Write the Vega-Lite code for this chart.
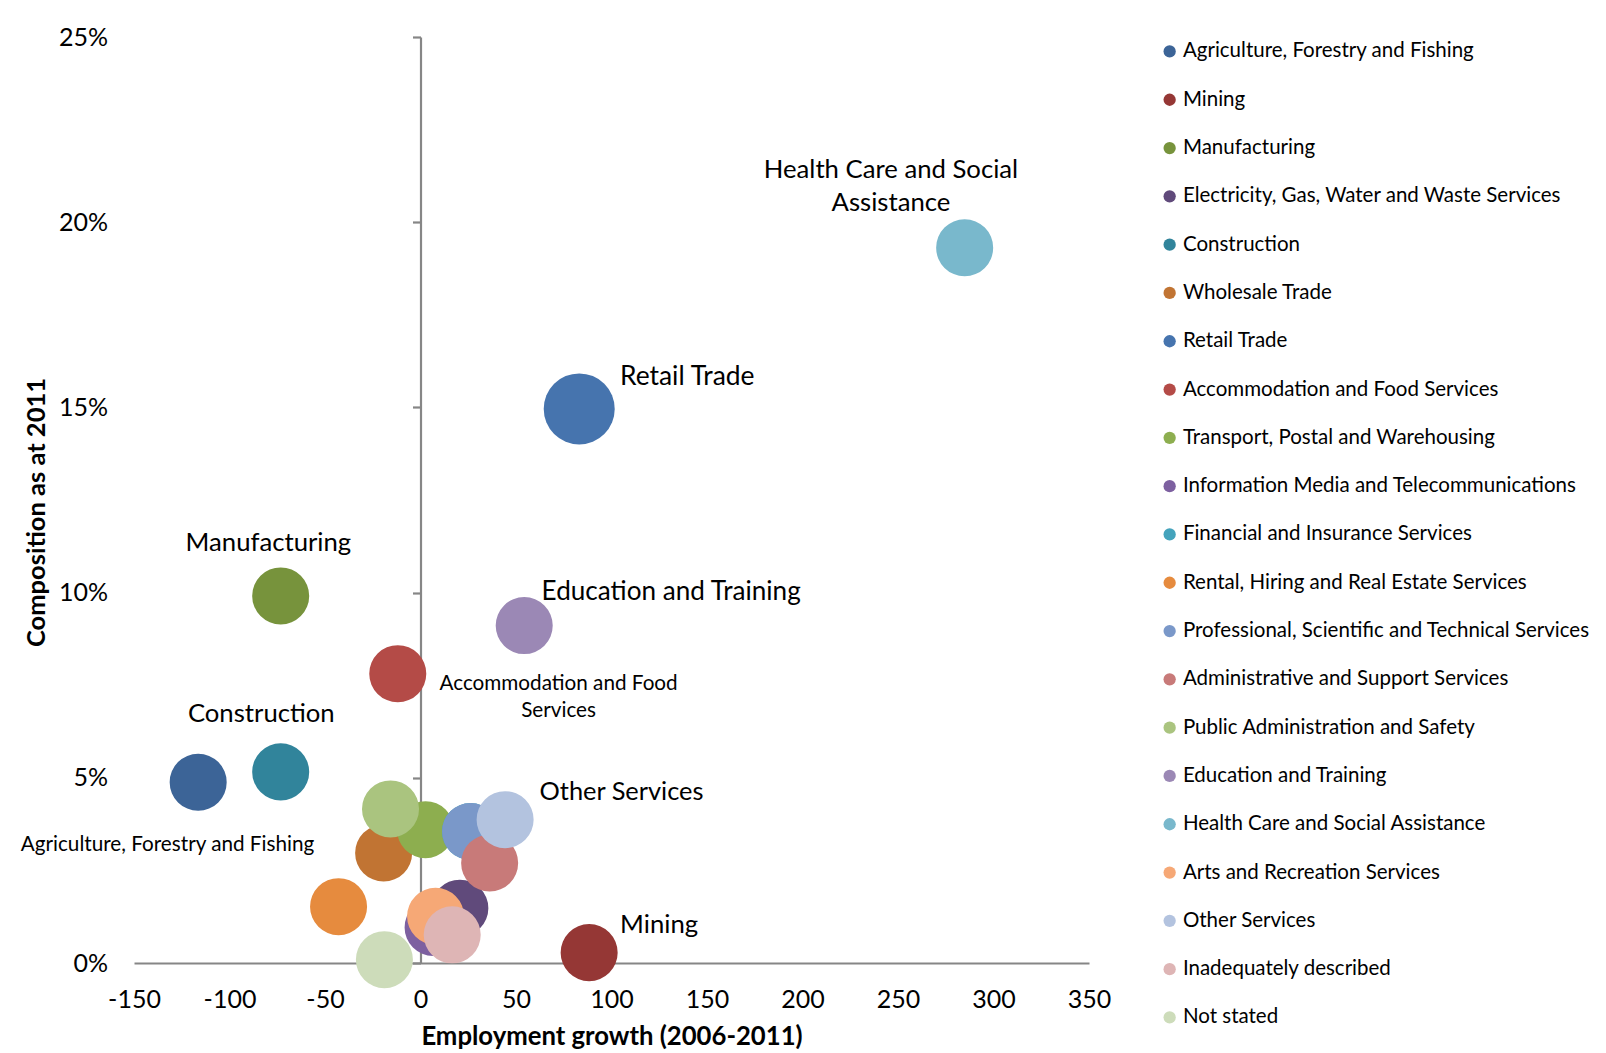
{
  "$schema": "https://vega.github.io/schema/vega-lite/v6.json",
  "autosize": {"type": "none"},
  "padding": {"left": 134, "top": 37, "right": 517, "bottom": 90},
  "width": 955,
  "height": 926,
  "background": "#ffffff",
  "config": {
    "font": "Lato",
    "view": {"stroke": null},
    "text": {"font": "Lato", "color": "#000000"}
  },
  "data": {
    "values": [
      {"industry": "Agriculture, Forestry and Fishing", "growth": -116.4, "share": 0.0488, "relsize": 1, "label": "Agriculture, Forestry and Fishing"},
      {"industry": "Mining", "growth": 88.3, "share": 0.0028, "relsize": 1, "label": "Mining"},
      {"industry": "Manufacturing", "growth": -73.2, "share": 0.0991, "relsize": 1, "label": "Manufacturing"},
      {"industry": "Electricity, Gas, Water and Waste Services", "growth": 20.6, "share": 0.0148, "relsize": 1, "label": ""},
      {"industry": "Construction", "growth": -73.2, "share": 0.0516, "relsize": 1, "label": "Construction"},
      {"industry": "Wholesale Trade", "growth": -19.3, "share": 0.0297, "relsize": 1, "label": ""},
      {"industry": "Retail Trade", "growth": 83.1, "share": 0.1496, "relsize": 1.55, "label": "Retail Trade"},
      {"industry": "Accommodation and Food Services", "growth": -11.9, "share": 0.0781, "relsize": 1, "label": "Accommodation and Food\nServices"},
      {"industry": "Transport, Postal and Warehousing", "growth": 2.6, "share": 0.036, "relsize": 1, "label": ""},
      {"industry": "Information Media and Telecommunications", "growth": 6.6, "share": 0.0096, "relsize": 1, "label": ""},
      {"industry": "Financial and Insurance Services", "growth": 26.2, "share": 0.0355, "relsize": 1, "label": ""},
      {"industry": "Rental, Hiring and Real Estate Services", "growth": -42.9, "share": 0.0152, "relsize": 1, "label": ""},
      {"industry": "Professional, Scientific and Technical Services", "growth": 26.2, "share": 0.0355, "relsize": 1, "label": ""},
      {"industry": "Administrative and Support Services", "growth": 36.2, "share": 0.027, "relsize": 1, "label": ""},
      {"industry": "Public Administration and Safety", "growth": -15.7, "share": 0.0416, "relsize": 1, "label": ""},
      {"industry": "Education and Training", "growth": 54.3, "share": 0.0911, "relsize": 1, "label": "Education and Training"},
      {"industry": "Health Care and Social Assistance", "growth": 284.9, "share": 0.1931, "relsize": 1, "label": "Health Care and Social\nAssistance"},
      {"industry": "Arts and Recreation Services", "growth": 7.9, "share": 0.0126, "relsize": 1, "label": ""},
      {"industry": "Other Services", "growth": 44.3, "share": 0.0387, "relsize": 1, "label": "Other Services"},
      {"industry": "Inadequately described", "growth": 16.6, "share": 0.0076, "relsize": 1, "label": ""},
      {"industry": "Not stated", "growth": -18.9, "share": 0.0009, "relsize": 1, "label": ""}
    ]
  },
  "encoding": {
    "x": {
      "field": "growth", "type": "quantitative",
      "scale": {"domain": [-150, 350], "nice": false, "zero": false},
      "axis": {
        "orient": "bottom",
        "values": [-150, -100, -50, 0, 50, 100, 150, 200, 250, 300, 350],
        "labelExpr": "replace(datum.label, '\u2212', '-')",
        "grid": false,
        "domain": true, "domainColor": "#868686", "domainWidth": 2.2,
        "ticks": false, "tickSize": 0,
        "labelFontSize": 25, "labelColor": "#000000", "labelBaseline": "middle", "labelPadding": 36,
        "labelFlush": false, "labelOverlap": false,
        "title": "Employment growth (2006-2011)",
        "titleFontSize": 25.7, "titleFontWeight": "bold", "titleColor": "#000000",
        "titleY": 73, "titleBaseline": "middle"
      }
    },
    "y": {
      "field": "share", "type": "quantitative",
      "scale": {"domain": [0, 0.25], "nice": false, "zero": false},
      "axis": {
        "orient": "left",
        "offset": -286.5,
        "values": [0, 0.05, 0.1, 0.15, 0.2, 0.25],
        "format": ".0%",
        "grid": false,
        "domain": true, "domainColor": "#868686", "domainWidth": 2.2,
        "ticks": true, "tickColor": "#868686", "tickWidth": 2.2, "tickSize": 8,
        "labelFontSize": 25, "labelColor": "#000000", "labelPadding": 305,
        "labelFlush": false, "labelOverlap": false,
        "title": "Composition as at 2011",
        "titleFontSize": 25.5, "titleFontWeight": "bold", "titleColor": "#000000",
        "titleAngle": -90, "titleAlign": "center", "titleBaseline": "middle",
        "titleX": -384, "titleY": 475
      }
    }
  },
  "layer": [
    {
      "mark": {"type": "circle", "opacity": 1, "strokeWidth": 0},
      "encoding": {
        "size": {
          "field": "relsize", "type": "quantitative",
          "scale": {"domain": [0, 1.55], "range": [0, 5041], "zero": true},
          "legend": null
        },
        "color": {
          "field": "industry", "type": "nominal",
          "scale": {
            "domain": [
              "Agriculture, Forestry and Fishing", "Mining", "Manufacturing",
              "Electricity, Gas, Water and Waste Services", "Construction", "Wholesale Trade",
              "Retail Trade", "Accommodation and Food Services", "Transport, Postal and Warehousing",
              "Information Media and Telecommunications", "Financial and Insurance Services",
              "Rental, Hiring and Real Estate Services", "Professional, Scientific and Technical Services",
              "Administrative and Support Services", "Public Administration and Safety",
              "Education and Training", "Health Care and Social Assistance",
              "Arts and Recreation Services", "Other Services", "Inadequately described", "Not stated"
            ],
            "range": [
              "#3C6497", "#953735", "#77933C", "#604A7B", "#31849B", "#C17433",
              "#4674AE", "#B44B47", "#8DAE4F", "#7D60A0", "#44A3BC",
              "#E68B3E", "#7A98C9", "#C87A79", "#AAC47F", "#9B88B5",
              "#79B8CC", "#F6A876", "#B3C3DF", "#DEB5B5", "#CDDCBA"
            ]
          },
          "legend": {
            "orient": "none", "legendX": 1025.4, "legendY": 4.2, "padding": 0, "title": null,
            "symbolType": "circle", "symbolSize": 151, "symbolStrokeWidth": 0, "symbolOpacity": 1,
            "labelFontSize": 20.5, "labelColor": "#000000", "labelFont": "Lato",
            "rowPadding": 27.3, "labelOffset": 3, "labelLimit": 0
          }
        }
      }
    },
    {
      "transform": [{"filter": "datum.industry === 'Health Care and Social Assistance'"}],
      "mark": {"type": "text", "align": "center", "baseline": "middle", "dx": -73.7, "dy": -77.9, "fontSize": 25.7, "lineBreak": "\n", "lineHeight": 32.8},
      "encoding": {"text": {"field": "label"}}
    },
    {
      "transform": [{"filter": "datum.industry === 'Retail Trade'"}],
      "mark": {"type": "text", "align": "left", "baseline": "middle", "dx": 40.8, "dy": -31.8, "fontSize": 26.4},
      "encoding": {"text": {"field": "label"}}
    },
    {
      "transform": [{"filter": "datum.industry === 'Manufacturing'"}],
      "mark": {"type": "text", "align": "center", "baseline": "middle", "dx": -12.3, "dy": -53.3, "fontSize": 25.7},
      "encoding": {"text": {"field": "label"}}
    },
    {
      "transform": [{"filter": "datum.industry === 'Construction'"}],
      "mark": {"type": "text", "align": "center", "baseline": "middle", "dx": -19.4, "dy": -57.4, "fontSize": 25.7},
      "encoding": {"text": {"field": "label"}}
    },
    {
      "transform": [{"filter": "datum.industry === 'Education and Training'"}],
      "mark": {"type": "text", "align": "left", "baseline": "middle", "dx": 17.4, "dy": -33.8, "fontSize": 26.1},
      "encoding": {"text": {"field": "label"}}
    },
    {
      "transform": [{"filter": "datum.industry === 'Other Services'"}],
      "mark": {"type": "text", "align": "left", "baseline": "middle", "dx": 34.4, "dy": -27.3, "fontSize": 25.4},
      "encoding": {"text": {"field": "label"}}
    },
    {
      "transform": [{"filter": "datum.industry === 'Mining'"}],
      "mark": {"type": "text", "align": "left", "baseline": "middle", "dx": 30.9, "dy": -28.1, "fontSize": 25.7},
      "encoding": {"text": {"field": "label"}}
    },
    {
      "transform": [{"filter": "datum.industry === 'Accommodation and Food Services'"}],
      "mark": {"type": "text", "align": "center", "baseline": "middle", "dx": 160.8, "dy": 10.2, "fontSize": 20.7, "lineBreak": "\n", "lineHeight": 26.6},
      "encoding": {"text": {"field": "label"}}
    },
    {
      "transform": [{"filter": "datum.industry === 'Agriculture, Forestry and Fishing'"}],
      "mark": {"type": "text", "align": "center", "baseline": "middle", "dx": -30.7, "dy": 62.5, "fontSize": 20.7},
      "encoding": {"text": {"field": "label"}}
    }
  ]
}
